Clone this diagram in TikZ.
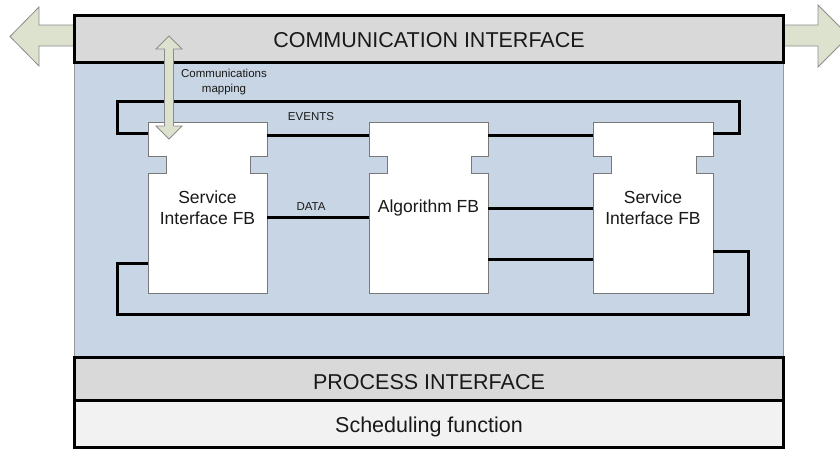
\documentclass[tikz,border=0pt]{standalone}
\usepackage{fontspec}
\setmainfont{Liberation Sans}
\definecolor{platblue}{RGB}{200,213,228}
\definecolor{ifgray}{RGB}{217,217,217}
\definecolor{schedgray}{RGB}{242,242,242}
\definecolor{arrowfill}{RGB}{221,226,207}
\definecolor{arrowline}{RGB}{140,140,140}
\definecolor{fbgray}{RGB}{120,120,120}
\definecolor{txt}{RGB}{25,25,25}
\newcommand\fbblock[4]{%
  \draw[fbline] (#2,122) -- (#3,122) -- (#3,156) -- ({#3-17},156) -- ({#3-17},173) -- (#3,173) -- (#3,293) -- (#2,293) -- (#2,173) -- ({#2+18},173) -- ({#2+18},156) -- (#2,156) -- cycle;
  \node[fbnode, minimum width={#3pt-#2pt}] (#1) at ({(#2+#3)/2},207.5) {#4};}
\begin{document}
\begin{tikzpicture}[x=1pt,y=-1pt,
  band/.style={draw=black, line width=3pt},
  bandtext/.style={anchor=base, inner sep=0pt, text=txt, font=\fontsize{21.5}{24}\selectfont},
  fbline/.style={draw=fbgray, line width=0.9pt, fill=white},
  fbnode/.style={rectangle, inner sep=0pt, outer sep=0pt, minimum height=171pt, align=center, text=txt, font=\fontsize{17.5}{21.5}\selectfont},
  conn/.style={draw=black, line width=3pt},
  bigarrow/.style={fill=arrowfill, draw=arrowline, line width=0.8pt},
  small/.style={font=\fontsize{11.5}{15}\selectfont, align=center, text=txt}]
\clip (0,0) rectangle (840,450);
% platform region
\path[fill=platblue, draw=gray!80, line width=0.8pt] (74,62) rectangle (783,357);
% side arrows
\draw[bigarrow] (74,25) -- (39,25) -- (39,7) -- (10,36.5) -- (39,66) -- (39,46) -- (74,46);
\draw[bigarrow] (783,25) -- (818,25) -- (818,5) -- (849,36) -- (818,67) -- (818,46) -- (783,46);
% bands
\path[band, fill=ifgray] (74,15) rectangle (783,62);
\path[band, fill=ifgray] (74,357) rectangle (783,400);
\path[band, fill=schedgray] (74,400) rectangle (783,447);
\node[bandtext] (comm) at (429,47) {COMMUNICATION INTERFACE};
\node[bandtext] (proc) at (429,389) {PROCESS INTERFACE};
\node[bandtext] (sched) at (429,432) {Scheduling function};
% function blocks
\fbblock{sifl}{148}{267}{Service\\Interface FB}
\fbblock{alg}{369}{488}{Algorithm FB}
\fbblock{sifr}{593}{713}{Service\\Interface FB}
% connectors
\coordinate (evtl) at (117.5,101);
\coordinate (evtr) at (739.5,101);
\coordinate (botl) at (117.5,314);
\coordinate (botr) at (748,314);
\draw[conn] (sifl.east |- 0,135) -- (alg.west |- 0,135);
\draw[conn] (alg.east |- 0,135) -- (sifr.west |- 0,135);
\draw[conn] (sifl.east |- 0,217) -- (alg.west |- 0,217);
\draw[conn] (alg.east |- 0,208) -- (sifr.west |- 0,208);
\draw[conn] (alg.east |- 0,259) -- (sifr.west |- 0,259);
\draw[conn] (sifl.west |- 0,133.5) -| (evtl) -- (evtr) |- (sifr.east |- 0,133.5);
\draw[conn] (sifr.east |- 0,251) -| (botr) -- (botl) |- (sifl.west |- 0,263);
% labels
\node[small] (evlab) at (311,117) {EVENTS};
\node[small] (dalab) at (311,207) {DATA};
\node[small] (cmlab) at (224,82.5) {Communications\\mapping};
% communications mapping double arrow
\draw[bigarrow] (169,36) -- (182,49) -- (173.5,49) -- (173.5,126) -- (182,126) -- (169,139) -- (156,126) -- (164.5,126) -- (164.5,49) -- (156,49) -- cycle;
\end{tikzpicture}
\end{document}
